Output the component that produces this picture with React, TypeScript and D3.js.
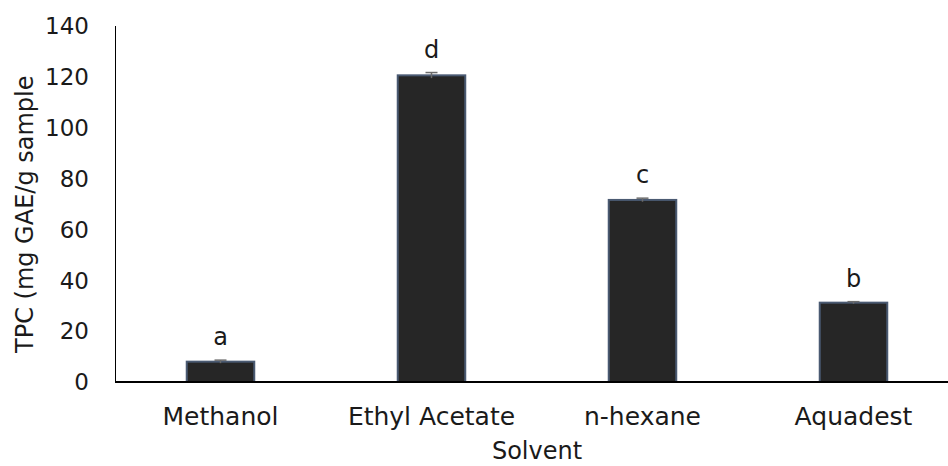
import * as d3 from "d3";
import { useEffect, useRef } from "react";

// ---- data ----
const solvents = ["Methanol", "Ethyl Acetate", "n-hexane", "Aquadest"];
const tpcValues = [8.0, 120.6, 71.6, 31.2];
const tpcErrors = [0.6, 1.1, 0.7, 0.4];
const groupLetters = ["a", "d", "c", "b"];
const yTicks = [0, 20, 40, 60, 80, 100, 120, 140];

export default function App() {
  const ref = useRef<SVGSVGElement | null>(null);

  useEffect(() => {
    const width = 948;
    const height = 466;
    const font = "'DejaVu Sans', sans-serif";

    const svg = d3.select(ref.current);
    svg.selectAll("*").remove();

    // scales
    const x = d3
      .scaleBand<string>()
      .domain(solvents)
      .range([115, 959])
      .paddingInner(0.68)
      .paddingOuter(0.34);

    const y = d3.scaleLinear().domain([0, 140]).range([382, 26]);

    // y axis line
    svg
      .append("line")
      .attr("x1", 115.5)
      .attr("x2", 115.5)
      .attr("y1", y(140))
      .attr("y2", y(0))
      .attr("stroke", "#000")
      .attr("stroke-width", 1);

    // y tick labels
    svg
      .append("g")
      .selectAll("text")
      .data(yTicks)
      .join("text")
      .attr("x", 89)
      .attr("y", (d) => y(d))
      .attr("dy", "0.36em")
      .attr("text-anchor", "end")
      .attr("font-family", font)
      .attr("font-size", 23)
      .attr("fill", "#1a1a1a")
      .text((d) => d);

    // bars
    svg
      .append("g")
      .selectAll("rect")
      .data(tpcValues)
      .join("rect")
      .attr("x", (_, i) => x(solvents[i])!)
      .attr("y", (d) => y(d))
      .attr("width", x.bandwidth())
      .attr("height", (d) => y(0) - y(d))
      .attr("fill", "#262626")
      .attr("stroke", "#4a5a72")
      .attr("stroke-width", 2);

    // error bars
    const eb = svg.append("g").attr("stroke", "#6b6b6b").attr("stroke-width", 1.5);
    tpcValues.forEach((v, i) => {
      const cx = x(solvents[i])! + x.bandwidth() / 2;
      eb.append("line")
        .attr("x1", cx)
        .attr("x2", cx)
        .attr("y1", y(v - tpcErrors[i]))
        .attr("y2", y(v + tpcErrors[i]));
      eb.append("line")
        .attr("x1", cx - 6)
        .attr("x2", cx + 6)
        .attr("y1", y(v + tpcErrors[i]))
        .attr("y2", y(v + tpcErrors[i]));
    });

    // x axis line
    svg
      .append("line")
      .attr("x1", 115)
      .attr("x2", width)
      .attr("y1", y(0))
      .attr("y2", y(0))
      .attr("stroke", "#000")
      .attr("stroke-width", 2);

    // significance letters
    svg
      .append("g")
      .selectAll("text")
      .data(groupLetters)
      .join("text")
      .attr("x", (_, i) => x(solvents[i])! + x.bandwidth() / 2)
      .attr("y", (_, i) => y(tpcValues[i] + tpcErrors[i]) - 15)
      .attr("text-anchor", "middle")
      .attr("font-family", font)
      .attr("font-size", 24)
      .attr("fill", "#1a1a1a")
      .text((d) => d);

    // category labels
    svg
      .append("g")
      .selectAll("text")
      .data(solvents)
      .join("text")
      .attr("x", (d) => x(d)! + x.bandwidth() / 2)
      .attr("y", 425)
      .attr("text-anchor", "middle")
      .attr("font-family", font)
      .attr("font-size", 25)
      .attr("fill", "#1a1a1a")
      .text((d) => d);

    // axis titles
    svg
      .append("text")
      .attr("x", 537)
      .attr("y", height - 7)
      .attr("text-anchor", "middle")
      .attr("font-family", font)
      .attr("font-size", 24)
      .attr("fill", "#1a1a1a")
      .text("Solvent");

    svg
      .append("text")
      .attr("transform", "translate(33,353) rotate(-90)")
      .attr("text-anchor", "start")
      .attr("font-family", font)
      .attr("font-size", 24)
      .attr("fill", "#1a1a1a")
      .text("TPC (mg GAE/g sample");
  }, []);

  return (
    <svg
      ref={ref}
      width={948}
      height={466}
      style={{ position: "absolute", left: 0, top: 0, background: "#fff" }}
    />
  );
}
